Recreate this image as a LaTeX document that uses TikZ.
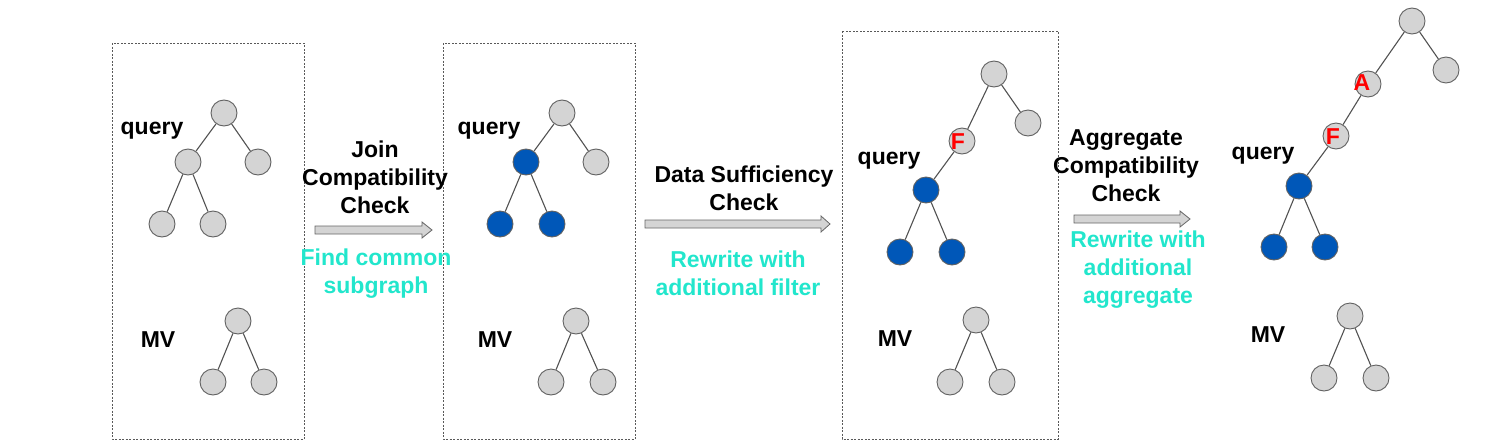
\documentclass[tikz,border=0pt]{standalone}
\usepackage{fontspec}
\setmainfont{Liberation Sans}
\begin{document}
\begin{tikzpicture}[x=1pt,y=-1pt,
  gn/.style={circle,draw=black!62,fill=black!17,line width=0.9pt,minimum size=26pt,inner sep=0pt},
  bn/.style={gn,fill=blue4},
  ed/.style={draw=black!68,line width=1.1pt},
  frame/.style={draw=black!65,line width=0.7pt,dash pattern=on 2pt off 1.5pt},
  lbl/.style={font=\bfseries\fontsize{23}{28}\selectfont,align=center,inner sep=0pt},
  note/.style={lbl,text=cyan4},
  opmark/.style={font=\bfseries\fontsize{23}{24}\selectfont,text=red,inner sep=0pt},
  barrow/.style={draw=black!60,fill=black!17,line width=0.8pt}
]
\definecolor{blue4}{HTML}{0057B8}
\definecolor{cyan4}{HTML}{22E6CC}
\useasboundingbox (0,0) rectangle (1511,447);

% frames
\draw[frame] (112,43) rectangle (304,439);
\draw[frame] (443,43) rectangle (635,439);
\draw[frame] (842,31) rectangle (1058,439);

% ---------- panel 1
\node[gn] (a1) at (224,113) {};
\node[gn] (a2) at (188,162) {};
\node[gn] (a3) at (258,162) {};
\node[gn] (a4) at (162,224) {};
\node[gn] (a5) at (213,224) {};
\draw[ed] (a1)--(a2) (a1)--(a3) (a2)--(a4) (a2)--(a5);
\node[lbl] (aq) at (152,131) {query};
\node[gn] (am1) at (238,321) {};
\node[gn] (am2) at (213,382) {};
\node[gn] (am3) at (264,382) {};
\draw[ed] (am1)--(am2) (am1)--(am3);
\node[lbl] (amv) at (158,340) {MV};

% ---------- panel 2
\node[gn] (b1) at (562,113) {};
\node[bn] (b2) at (526,162) {};
\node[gn] (b3) at (596,162) {};
\node[bn] (b4) at (500,224) {};
\node[bn] (b5) at (552,224) {};
\draw[ed] (b1)--(b2) (b1)--(b3) (b2)--(b4) (b2)--(b5);
\node[lbl] (bq) at (489,131) {query};
\node[gn] (bm1) at (576,321) {};
\node[gn] (bm2) at (551,382) {};
\node[gn] (bm3) at (603,382) {};
\draw[ed] (bm1)--(bm2) (bm1)--(bm3);
\node[lbl] (bmv) at (495,340) {MV};

% ---------- panel 3
\node[gn] (c1) at (994,74) {};
\node[gn] (c3) at (1028,123) {};
\node[gn] (cf) at (962,141) {};
\node[bn] (c2) at (926,190) {};
\node[bn] (c4) at (900,252) {};
\node[bn] (c5) at (952,252) {};
\draw[ed] (c1)--(cf) (c1)--(c3) (cf)--(c2) (c2)--(c4) (c2)--(c5);
\node[opmark] (cfl) at (958,142) {F};
\node[lbl] (cq) at (889,161) {query};
\node[gn] (cm1) at (976,320) {};
\node[gn] (cm2) at (950,382) {};
\node[gn] (cm3) at (1002,382) {};
\draw[ed] (cm1)--(cm2) (cm1)--(cm3);
\node[lbl] (cmv) at (895,339) {MV};

% ---------- panel 4
\node[gn] (d1) at (1412,21) {};
\node[gn] (d3) at (1446,70) {};
\node[gn] (da) at (1368,84) {};
\node[gn] (df) at (1336,136) {};
\node[bn] (d2) at (1299,186) {};
\node[bn] (d4) at (1274,247) {};
\node[bn] (d5) at (1325,247) {};
\draw[ed] (d1)--(da) (d1)--(d3) (da)--(df) (df)--(d2) (d2)--(d4) (d2)--(d5);
\node[opmark] (dal) at (1362,83) {A};
\node[opmark] (dfl) at (1333,137) {F};
\node[lbl] (dq) at (1263,156) {query};
\node[gn] (dm1) at (1350,316) {};
\node[gn] (dm2) at (1324,378) {};
\node[gn] (dm3) at (1376,378) {};
\draw[ed] (dm1)--(dm2) (dm1)--(dm3);
\node[lbl] (dmv) at (1268,335) {MV};

% ---------- block arrows
\draw[barrow] (315,226) -- (422,226) -- (422,222) -- (432,230) -- (422,238) -- (422,234) -- (315,234) -- cycle;
\draw[barrow] (645,220) -- (821,220) -- (821,216) -- (830,224) -- (821,232) -- (821,228) -- (645,228) -- cycle;
\draw[barrow] (1074,215) -- (1180,215) -- (1180,211) -- (1190,219) -- (1180,227) -- (1180,223) -- (1074,223) -- cycle;

% ---------- step texts
\node[lbl] (t1) at (375,177) {Join\\Compatibility\\Check};
\node[note] (n1) at (376,274) {Find common\\subgraph};
\node[lbl] (t2) at (744,188) {Data Sufficiency\\Check};
\node[note] (n2) at (738,273) {Rewrite with\\additional filter};
\node[lbl] (t3) at (1126,166) {Aggregate\\Compatibility\\Check};
\node[note] (n3) at (1138,270) {Rewrite with\\additional\\aggregate};
\end{tikzpicture}
\end{document}
